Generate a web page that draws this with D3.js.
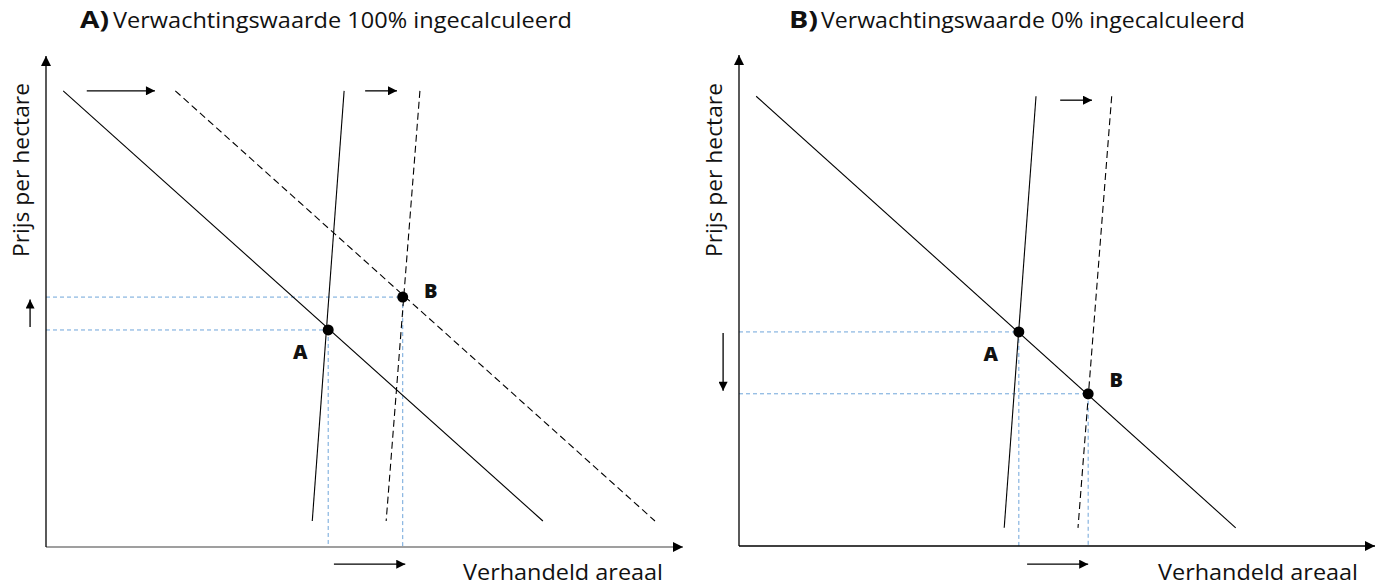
<!DOCTYPE html>
<html>
<head>
<meta charset="utf-8">
<script src="https://cdn.jsdelivr.net/npm/d3@7"></script>
<style>
    body { margin: 0; background: #fff; }
    svg { display: block; font-family: "Open Sans", "Noto Sans", sans-serif; }
</style>
</head>
<body>
<div id="chart"></div>
<script>
// panels: A = expectation value fully priced in, B = not priced in
var panels = ["A", "B"];
var titleBold = ["A)", "B)"];
var titleText = ["Verwachtingswaarde 100% ingecalculeerd", "Verwachtingswaarde 0% ingecalculeerd"];
var yLabel = "Prijs per hectare";
var xLabel = "Verhandeld areaal";

// curves in axis units (0..100), [x1, y1, x2, y2]
var demandA = [2.7, 92.9, 78.0, 5.3];
var demandShiftA = [20.3, 92.9, 95.6, 5.3];
var supplyA = [46.8, 92.9, 41.8, 5.3];
var supplyShiftA = [58.7, 92.9, 53.4, 5.3];

var demandB = [2.7, 91.6, 78.1, 3.7];
var supplyB = [46.7, 91.6, 41.7, 3.7];
var supplyShiftB = [58.6, 91.6, 53.3, 3.7];

// equilibrium points [x, y]
var pointsA = [{name: "A", x: 44.3, y: 44.2}, {name: "B", x: 56.0, y: 50.9}];
var pointsB = [{name: "A", x: 44.0, y: 43.6}, {name: "B", x: 54.9, y: 31.0}];

// shift arrows [x1, y1, x2, y2]
var arrowsA = [[6.4, 92.9, 17.1, 92.9], [50.1, 92.9, 55.1, 92.9], [-2.5, 44.8, -2.5, 50.4], [45.2, -3.5, 56.4, -3.5]];
var arrowsB = [[50.5, 90.8, 55.5, 90.8], [-2.5, 43.4, -2.5, 31.6], [45.3, -3.7, 54.9, -3.7]];

var width = 1379, height = 586;

var svg = d3.select("#chart").append("svg")
    .attr("width", width)
    .attr("height", height);

var defs = svg.append("defs");
defs.append("marker")
    .attr("id", "axisHead")
    .attr("markerUnits", "userSpaceOnUse")
    .attr("viewBox", "0 0 10 10")
    .attr("refX", 10).attr("refY", 5)
    .attr("markerWidth", 11).attr("markerHeight", 10)
    .attr("orient", "auto")
    .append("path").attr("d", "M0,0L10,5L0,10Z").attr("fill", "#000");
defs.append("marker")
    .attr("id", "shiftHead")
    .attr("markerUnits", "userSpaceOnUse")
    .attr("viewBox", "0 0 10 10")
    .attr("refX", 10).attr("refY", 5)
    .attr("markerWidth", 11).attr("markerHeight", 9)
    .attr("orient", "auto")
    .append("path").attr("d", "M0,0L10,5L0,10Z").attr("fill", "#000");

var layout = [
    {x0: 46, x1: 683, y0: 547, y1: 56, boldX: 80, titleX: 113, titleLen: 459,
        xLabelEnd: 663, xAxisColor: "#7f7f7f"},
    {x0: 739, x1: 1375, y0: 546, y1: 55, boldX: 789, titleX: 821, titleLen: 424,
        xLabelEnd: 1358, xAxisColor: "#000"}
];

var data = [
    {
        demand: [demandA, demandShiftA],
        supply: [supplyA, supplyShiftA],
        points: pointsA,
        arrows: arrowsA
    },
    {
        demand: [demandB],
        supply: [supplyB, supplyShiftB],
        points: pointsB,
        arrows: arrowsB
    }
];

panels.forEach(function (p, i) {
    var L = layout[i], D = data[i];

    var x = d3.scaleLinear().domain([0, 100]).range([L.x0, L.x1]);
    var y = d3.scaleLinear().domain([0, 100]).range([L.y0, L.y1]);

    var g = svg.append("g").attr("class", "panel-" + p);

    // title
    g.append("text")
        .attr("x", L.boldX)
        .attr("y", 28)
        .attr("font-size", 23)
        .attr("font-weight", "bold")
        .attr("textLength", 29)
        .attr("lengthAdjust", "spacingAndGlyphs")
        .attr("fill", "#111")
        .text(titleBold[i]);
    g.append("text")
        .attr("x", L.titleX)
        .attr("y", 28)
        .attr("font-size", 21)
        .attr("textLength", L.titleLen)
        .attr("lengthAdjust", "spacingAndGlyphs")
        .attr("fill", "#111")
        .text(titleText[i]);

    // guide lines to the equilibrium points
    D.points.forEach(function (d) {
        g.append("line")
            .attr("x1", x(0)).attr("x2", x(d.x))
            .attr("y1", y(d.y)).attr("y2", y(d.y))
            .attr("stroke", "#6fa5da").attr("stroke-width", 1)
            .attr("stroke-dasharray", "4,3");
        g.append("line")
            .attr("x1", x(d.x)).attr("x2", x(d.x))
            .attr("y1", y(d.y)).attr("y2", y(0))
            .attr("stroke", "#6fa5da").attr("stroke-width", 1)
            .attr("stroke-dasharray", "4,3");
    });

    // axes
    g.append("line")
        .attr("x1", x(0)).attr("y1", y(0))
        .attr("x2", x(100)).attr("y2", y(0))
        .attr("stroke", L.xAxisColor).attr("stroke-width", 1.6)
        .attr("marker-end", "url(#axisHead)");
    g.append("line")
        .attr("x1", x(0)).attr("y1", y(0))
        .attr("x2", x(0)).attr("y2", y(100))
        .attr("stroke", "#000").attr("stroke-width", 1.3)
        .attr("marker-end", "url(#axisHead)");

    // axis labels
    g.append("text")
        .attr("transform", "translate(" + (x(0) - 17) + ",170) rotate(-90)")
        .attr("text-anchor", "middle")
        .attr("font-size", 21)
        .attr("textLength", 174)
        .attr("lengthAdjust", "spacingAndGlyphs")
        .attr("fill", "#111")
        .text(yLabel);
    g.append("text")
        .attr("x", L.xLabelEnd - 200)
        .attr("y", 580)
        .attr("font-size", 21)
        .attr("textLength", 200)
        .attr("lengthAdjust", "spacingAndGlyphs")
        .attr("fill", "#111")
        .text(xLabel);

    // demand and supply curves
    var curves = [];
    D.demand.forEach(function (c, k) { curves.push({c: c, dashed: k > 0}); });
    D.supply.forEach(function (c, k) { curves.push({c: c, dashed: k > 0}); });

    g.selectAll(".curve")
        .data(curves)
        .enter().append("line")
        .attr("class", "curve")
        .attr("x1", function (d) { return x(d.c[0]); })
        .attr("y1", function (d) { return y(d.c[1]); })
        .attr("x2", function (d) { return x(d.c[2]); })
        .attr("y2", function (d) { return y(d.c[3]); })
        .attr("stroke", "#000")
        .attr("stroke-width", 1.1)
        .attr("stroke-dasharray", function (d) { return d.dashed ? "7,4" : null; });

    // shift arrows
    g.selectAll(".shift")
        .data(D.arrows)
        .enter().append("line")
        .attr("class", "shift")
        .attr("x1", function (d) { return x(d[0]); })
        .attr("y1", function (d) { return y(d[1]); })
        .attr("x2", function (d) { return x(d[2]); })
        .attr("y2", function (d) { return y(d[3]); })
        .attr("stroke", "#000")
        .attr("stroke-width", 1.3)
        .attr("marker-end", "url(#shiftHead)");

    // equilibrium points
    g.selectAll(".pt")
        .data(D.points)
        .enter().append("circle")
        .attr("class", "pt")
        .attr("cx", function (d) { return x(d.x); })
        .attr("cy", function (d) { return y(d.y); })
        .attr("r", 5.5)
        .attr("fill", "#000");

    g.selectAll(".ptlabel")
        .data(D.points)
        .enter().append("text")
        .attr("class", "ptlabel")
        .attr("x", function (d, k) { return x(d.x) + (k === 0 ? -28 : 28); })
        .attr("y", function (d, k) { return y(d.y) + (k === 0 ? 29 : (i === 0 ? 1 : -7)); })
        .attr("text-anchor", "middle")
        .attr("font-size", 20)
        .attr("font-weight", "800")
        .attr("fill", "#111")
        .text(function (d) { return d.name; });
});
</script>
</body>
</html>
